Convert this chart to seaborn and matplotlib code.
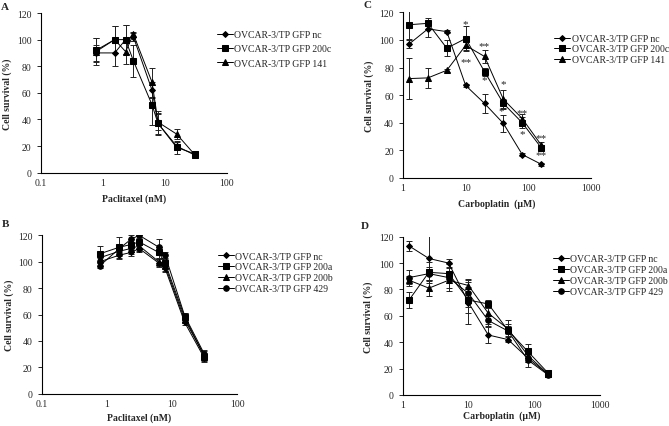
import numpy as np
import pandas as pd
import matplotlib
matplotlib.use("Agg")
import matplotlib.pyplot as plt
import seaborn as sns
from matplotlib.ticker import LogLocator, FuncFormatter, NullFormatter, MultipleLocator

# concentrations
pac_conc = [0.78, 1.56, 2.34, 3.13, 6.25, 7.8, 15.6, 31.25]
carb_conc = [1.25, 2.5, 5, 10, 20, 40, 80, 160]

# Panel A - paclitaxel
a_names = ["OVCAR-3/TP GFP nc", "OVCAR-3/TP GFP 200c", "OVCAR-3/TP GFP 141"]
a_nc = [90, 90, 100, 102, 62, 37, 20, 13]
a_200c = [92, 100, 100, 84, 51, 37, 19, 14]
a_141 = [91, 100, 91, 104, 68, 38, 29, 13]
a_nc_err = [6, 10, 11, 3, 6, 8, 3, 2]
a_200c_err = [9, 10, 11, 12, 15, 9, 5, 2]
a_141_err = [10, 10, 9, 2, 11, 6, 4, 2]

# Panel B - paclitaxel
b_names = ["OVCAR-3/TP GFP nc", "OVCAR-3/TP GFP 200a", "OVCAR-3/TP GFP 200b", "OVCAR-3/TP GFP 429"]
b_nc = [100, 105, 107, 110, 99, 95, 54, 27]
b_200a = [106, 111, 113, 115, 107, 99, 58, 28]
b_200b = [103, 108, 110, 112, 100, 97, 56, 29]
b_429 = [97, 110, 117, 120, 111, 105, 59, 30]
b_nc_err = [3, 3, 3, 3, 3, 3, 2, 3]
b_200a_err = [6, 8, 4, 5, 4, 3, 3, 3]
b_200b_err = [4, 4, 4, 4, 3, 4, 2, 3]
b_429_err = [2, 3, 3, 2, 6, 2, 2, 3]

# Panel C - carboplatin
c_names = a_names
c_nc = [97, 108, 106, 67, 54, 39.5, 17, 10]
c_200c = [111, 112, 94, 101, 77, 54, 40, 22]
c_141 = [72, 72.5, 78, 96, 88, 57, 43, 24]
c_nc_err = [3, 6, 1, 1, 7, 6, 1, 1]
c_200c_err = [10, 4, 6, 9, 3, 3, 4, 2]
c_141_err = [15, 7.5, 1, 3, 5, 7, 3, 2]
c_star_x = [10, 10, 20, 20, 40, 37, 80, 80, 160, 160]
c_star_y = [112, 84, 96, 71, 68, 49, 47.5, 32, 29, 16.7]
c_star_txt = ["*", "**", "**", "*", "*", "*", "**", "*", "**", "**"]

# Panel D - carboplatin
d_names = b_names
d_nc = [113, 103.5, 100, 70, 45.5, 42, 28, 16]
d_200a = [72, 93, 92, 72, 69, 49, 33, 17]
d_200b = [87, 81, 87, 83, 62, 50, 30, 16]
d_429 = [89, 92, 89, 77, 56.5, 48.5, 26.5, 15.5]
d_nc_err = [4, 17, 3, 16, 6, 2, 3, 2]
d_200a_err = [6, 8, 4, 10, 3, 8, 6, 2]
d_200b_err = [3, 6, 6, 5, 8, 4, 5, 2]
d_429_err = [6, 5, 10, 10, 4, 4, 5, 2]

sns.set_style("white")
plt.rcParams["font.family"] = ["Liberation Serif", "DejaVu Serif"]
plt.rcParams["font.size"] = 7

fig = plt.figure(figsize=(6.69, 4.27), dpi=100)
W, H = 669, 427


def add_ax(left, right, top, bottom):
    return fig.add_axes([left / W, 1 - bottom / H, (right - left) / W, (bottom - top) / H])


def draw_panel(ax, conc, names, means, errs, markers, sizes, xlim, xlabel, xpad, ylab_x,
               leg_xy, leg_space):
    for name, m, e, mk, ms in zip(names, means, errs, markers, sizes):
        df = pd.DataFrame({"conc": conc, "surv": m})
        ax.errorbar(conc, m, yerr=e, fmt="none", ecolor="#222222", elinewidth=0.7,
                    capsize=2, capthick=0.7, zorder=1)
        sns.lineplot(data=df, x="conc", y="surv", ax=ax, color="black", marker=mk,
                     markersize=ms, markeredgecolor="black", linewidth=0.7, label=name,
                     zorder=3)
    ax.set_xscale("log")
    ax.set_xlim(*xlim)
    ax.set_ylim(0, 120)
    ax.yaxis.set_major_locator(MultipleLocator(20))
    ax.xaxis.set_major_locator(LogLocator(base=10))
    ax.xaxis.set_minor_locator(LogLocator(base=10, subs=np.arange(2, 10)))
    ax.xaxis.set_major_formatter(FuncFormatter(lambda v, p: f"{v:g}"))
    ax.xaxis.set_minor_formatter(NullFormatter())
    ax.tick_params(axis="x", which="major", direction="in", length=4, width=0.7, labelsize=7, pad=3.5)
    ax.tick_params(axis="x", which="minor", direction="in", length=2.5, width=0.6)
    ax.tick_params(axis="y", which="major", direction="out", length=3, width=0.7, labelsize=7, left=True)
    for s in ["top", "right"]:
        ax.spines[s].set_visible(False)
    for s in ["left", "bottom"]:
        ax.spines[s].set_color("black")
        ax.spines[s].set_linewidth(0.8)
    ax.set_xlabel(xlabel, fontsize=7, fontweight="bold", labelpad=xpad)
    ax.set_ylabel("Cell survival (%)", fontsize=7, fontweight="bold")
    ax.yaxis.set_label_coords(ylab_x, 0.5)
    ax.legend(loc="upper left", bbox_to_anchor=(leg_xy[0] / W, 1 - leg_xy[1] / H),
              bbox_transform=fig.transFigure, frameon=False, fontsize=7, borderpad=0,
              handlelength=1.6, handletextpad=0.2, labelspacing=leg_space, borderaxespad=0)


mk3 = ["D", "s", "^"]
sz3 = [3, 4, 4]
mk4 = ["D", "s", "^", "o"]
sz4 = [3, 4, 4, 4]

axA = add_ax(40.7, 226.7, 14, 173.7)
draw_panel(axA, pac_conc, a_names, [a_nc, a_200c, a_141], [a_nc_err, a_200c_err, a_141_err],
           mk3, sz3, (0.1, 100), "Paclitaxel (nM)", 5, -0.154, (217, 31), 0.55)

axC = add_ax(403, 591, 13.3, 179)
draw_panel(axC, carb_conc, c_names, [c_nc, c_200c, c_141], [c_nc_err, c_200c_err, c_141_err],
           mk3, sz3, (1, 1000), "Carboplatin  (\u03bcM)", 4.5, -0.154, (554, 35), 0.15)
for x, y, t in zip(c_star_x, c_star_y, c_star_txt):
    axC.text(x, y, t, ha="center", va="center", fontsize=8)

axB = add_ax(41.7, 237.3, 236.3, 394.7)
draw_panel(axB, pac_conc, b_names, [b_nc, b_200a, b_200b, b_429],
           [b_nc_err, b_200a_err, b_200b_err, b_429_err],
           mk4, sz4, (0.1, 100), "Paclitaxel (nM)", 3.5, -0.142, (218, 252.5), 0.2)

axD = add_ax(402.7, 600, 237.7, 396)
draw_panel(axD, carb_conc, d_names, [d_nc, d_200a, d_200b, d_429],
           [d_nc_err, d_200a_err, d_200b_err, d_429_err],
           mk4, sz4, (1, 1000), "Carboplatin  (\u03bcM)", 1, -0.149, (553, 255.5), 0.2)

for lab, x, y in [("A", 5, 7), ("C", 368, 5), ("B", 5, 225), ("D", 365, 227)]:
    fig.text(x / W, 1 - y / H, lab, fontsize=8, fontweight="bold", ha="center", va="center")

fig.savefig("out.png", dpi=100)
